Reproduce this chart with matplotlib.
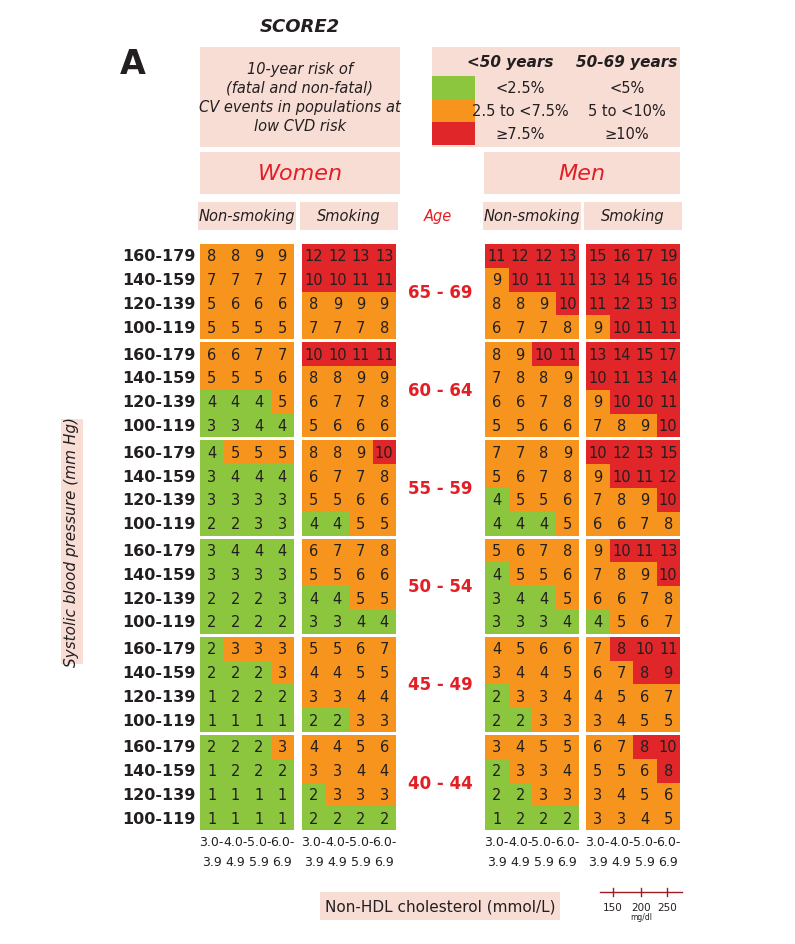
import numpy as np
import matplotlib
matplotlib.use("Agg")
import matplotlib.pyplot as plt
from matplotlib.colors import ListedColormap, BoundaryNorm
from matplotlib.patches import Rectangle

plt.rcParams['font.family'] = ['Liberation Sans Narrow', 'DejaVu Sans']

ages = ["65 - 69", "60 - 64", "55 - 59", "50 - 54", "45 - 49", "40 - 44"]
bp_labels = ["160-179", "140-159", "120-139", "100-119"]
chol_top = ["3.0-", "4.0-", "5.0-", "6.0-"]
chol_bot = ["3.9", "4.9", "5.9", "6.9"]

women_nonsmoking = [
    [[8, 8, 9, 9], [7, 7, 7, 7], [5, 6, 6, 6], [5, 5, 5, 5]],
    [[6, 6, 7, 7], [5, 5, 5, 6], [4, 4, 4, 5], [3, 3, 4, 4]],
    [[4, 5, 5, 5], [3, 4, 4, 4], [3, 3, 3, 3], [2, 2, 3, 3]],
    [[3, 4, 4, 4], [3, 3, 3, 3], [2, 2, 2, 3], [2, 2, 2, 2]],
    [[2, 3, 3, 3], [2, 2, 2, 3], [1, 2, 2, 2], [1, 1, 1, 1]],
    [[2, 2, 2, 3], [1, 2, 2, 2], [1, 1, 1, 1], [1, 1, 1, 1]],
]
women_smoking = [
    [[12, 12, 13, 13], [10, 10, 11, 11], [8, 9, 9, 9], [7, 7, 7, 8]],
    [[10, 10, 11, 11], [8, 8, 9, 9], [6, 7, 7, 8], [5, 6, 6, 6]],
    [[8, 8, 9, 10], [6, 7, 7, 8], [5, 5, 6, 6], [4, 4, 5, 5]],
    [[6, 7, 7, 8], [5, 5, 6, 6], [4, 4, 5, 5], [3, 3, 4, 4]],
    [[5, 5, 6, 7], [4, 4, 5, 5], [3, 3, 4, 4], [2, 2, 3, 3]],
    [[4, 4, 5, 6], [3, 3, 4, 4], [2, 3, 3, 3], [2, 2, 2, 2]],
]
men_nonsmoking = [
    [[11, 12, 12, 13], [9, 10, 11, 11], [8, 8, 9, 10], [6, 7, 7, 8]],
    [[8, 9, 10, 11], [7, 8, 8, 9], [6, 6, 7, 8], [5, 5, 6, 6]],
    [[7, 7, 8, 9], [5, 6, 7, 8], [4, 5, 5, 6], [4, 4, 4, 5]],
    [[5, 6, 7, 8], [4, 5, 5, 6], [3, 4, 4, 5], [3, 3, 3, 4]],
    [[4, 5, 6, 6], [3, 4, 4, 5], [2, 3, 3, 4], [2, 2, 3, 3]],
    [[3, 4, 5, 5], [2, 3, 3, 4], [2, 2, 3, 3], [1, 2, 2, 2]],
]
men_smoking = [
    [[15, 16, 17, 19], [13, 14, 15, 16], [11, 12, 13, 13], [9, 10, 11, 11]],
    [[13, 14, 15, 17], [10, 11, 13, 14], [9, 10, 10, 11], [7, 8, 9, 10]],
    [[10, 12, 13, 15], [9, 10, 11, 12], [7, 8, 9, 10], [6, 6, 7, 8]],
    [[9, 10, 11, 13], [7, 8, 9, 10], [6, 6, 7, 8], [4, 5, 6, 7]],
    [[7, 8, 10, 11], [6, 7, 8, 9], [4, 5, 6, 7], [3, 4, 5, 5]],
    [[6, 7, 8, 10], [5, 5, 6, 8], [3, 4, 5, 6], [3, 3, 4, 5]],
]

GREEN, ORANGE, RED = "#8cc63f", "#f7941d", "#e1262a"
PINK = "#f8ddd5"
TXT = "#231f20"
REDTXT = "#e31e24"
cmap = ListedColormap([GREEN, ORANGE, RED])
norm_old = BoundaryNorm([0, 5, 10, 100], 3)   # 50-69 years
norm_young = BoundaryNorm([0, 3, 8, 100], 3)  # <50 years

fig = plt.figure(figsize=(7.95, 9.45), dpi=100)
ax = fig.add_axes([0, 0, 1, 1])
ax.set_xlim(0, 795)
ax.set_ylim(945, 0)
ax.axis("off")

def box(x0, y0, x1, y1):
    ax.add_patch(Rectangle((x0, y0), x1 - x0, y1 - y0, color=PINK, lw=0))

# header
ax.text(300, 27, "SCORE2", ha="center", va="center", fontsize=13, weight="bold", style="italic", color=TXT)
ax.text(133, 64, "A", ha="center", va="center", fontsize=24, weight="bold", color=TXT)
box(200, 48, 400, 148)
ax.text(300, 98, "10-year risk of\n(fatal and non-fatal)\nCV events in populations at\nlow CVD risk",
        ha="center", va="center", fontsize=10.5, style="italic", color=TXT, linespacing=1.35)
box(432, 48, 680, 148)
ax.text(510, 63, "<50 years", ha="center", va="center", fontsize=11, weight="bold", style="italic", color=TXT)
ax.text(627, 63, "50-69 years", ha="center", va="center", fontsize=11, weight="bold", style="italic", color=TXT)
leg = [(GREEN, "<2.5%", "<5%"), (ORANGE, "2.5 to <7.5%", "5 to <10%"), (RED, "≥7.5%", "≥10%")]
for i, (c, a, b) in enumerate(leg):
    y0 = 77 + i * 23
    ax.add_patch(Rectangle((432, y0), 43, 23, color=c, lw=0))
    ax.text(520, y0 + 11.5, a, ha="center", va="center", fontsize=10.5, color=TXT)
    ax.text(627, y0 + 11.5, b, ha="center", va="center", fontsize=10.5, color=TXT)

box(200, 153, 400, 195)
ax.text(300, 174, "Women", ha="center", va="center", fontsize=16, style="italic", color=REDTXT)
box(484, 153, 680, 195)
ax.text(582, 174, "Men", ha="center", va="center", fontsize=16, style="italic", color=REDTXT)

groups = [(women_nonsmoking, 200, "Non-smoking"), (women_smoking, 302, "Smoking"),
          (men_nonsmoking, 485, "Non-smoking"), (men_smoking, 586, "Smoking")]
cw = 23.5
for _, x0, lab in groups:
    box(x0 - 2, 203, x0 + 4 * cw + 2, 231)
    ax.text(x0 + 2 * cw, 217, lab, ha="center", va="center", fontsize=10.5, style="italic", color=TXT)
ax.text(438, 217, "Age", ha="center", va="center", fontsize=10.5, style="italic", color=REDTXT)

rh = 23.8
pitch = 98.2
top0 = 245
for b, age in enumerate(ages):
    ytop = top0 + b * pitch
    norm = norm_young if b >= 4 else norm_old
    yedges = ytop + np.arange(5) * rh
    for data, x0, _ in groups:
        vals = np.array(data[b])
        xedges = x0 + np.arange(5) * cw
        ax.pcolormesh(xedges, yedges, vals, cmap=cmap, norm=norm, shading="flat")
        for r in range(4):
            for c in range(4):
                ax.text(x0 + (c + 0.5) * cw, ytop + (r + 0.5) * rh, str(vals[r, c]),
                        ha="center", va="center", fontsize=10.5, color=TXT)
    for r, lab in enumerate(bp_labels):
        ax.text(122, ytop + (r + 0.5) * rh, lab, ha="left", va="center", fontsize=11.5, weight="bold", color=TXT)
    ax.text(440, ytop + 2 * rh, age, ha="center", va="center", fontsize=12, weight="bold", color=REDTXT)

for _, x0, _ in groups:
    for c in range(4):
        ax.text(x0 + (c + 0.5) * cw, 843, chol_top[c], ha="center", va="center", fontsize=9, color=TXT)
        ax.text(x0 + (c + 0.5) * cw, 863, chol_bot[c], ha="center", va="center", fontsize=9, color=TXT)

box(61, 420, 83, 665)
ax.text(72, 542, "Systolic blood pressure (mm Hg)", rotation=90, ha="center", va="center",
        fontsize=11, style="italic", color=TXT)

box(320, 893, 560, 921)
ax.text(440, 907, "Non-HDL cholesterol (mmol/L)", ha="center", va="center", fontsize=11, color=TXT)

ax.plot([600, 682], [893, 893], color="#9e1b20", lw=1)
for x, t in zip([613, 641, 667], ["150", "200", "250"]):
    ax.plot([x, x], [889, 897], color="#9e1b20", lw=1)
    ax.text(x, 908, t, ha="center", va="center", fontsize=7.5, color=TXT)
ax.text(641, 917, "mg/dl", ha="center", va="center", fontsize=5.5, color=TXT)

fig.savefig("out.png", dpi=100)
